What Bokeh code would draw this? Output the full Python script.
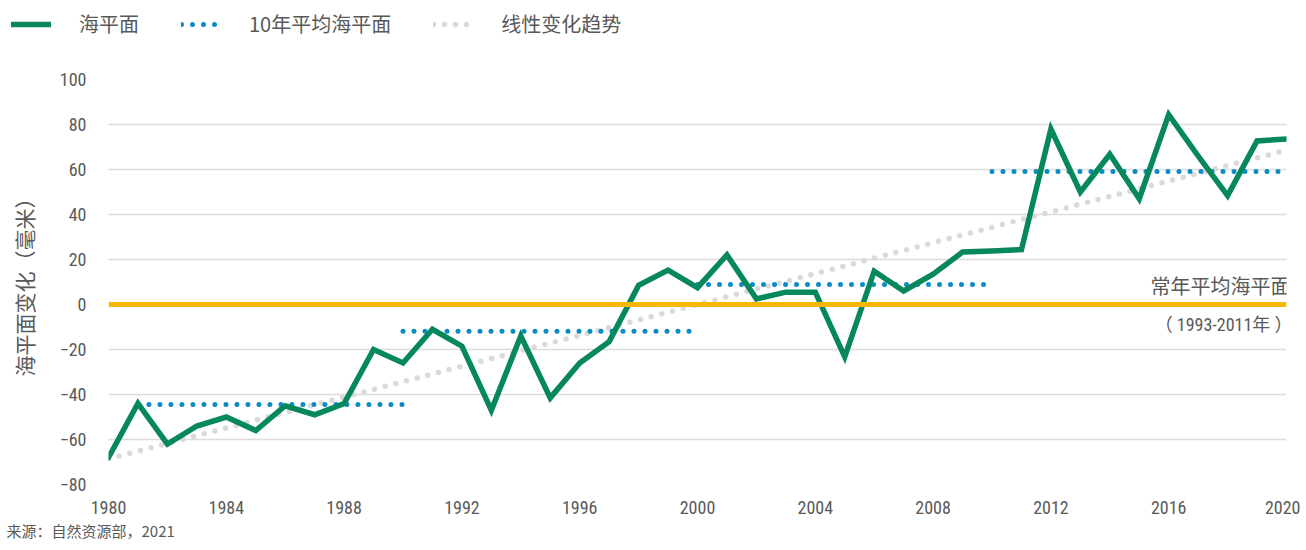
from bokeh.plotting import figure
from bokeh.layouts import column
from bokeh.models import Legend, LegendItem, Label, Span, FixedTicker, Title
from bokeh.embed import file_html
from bokeh.resources import INLINE

# ---- data ----
years = list(range(1980, 2021))
sea_level = [-68, -44, -62, -54, -50, -56, -45, -49, -44, -20,
             -26, -11, -18.5, -47, -14, -41.5, -26, -16.5, 8.5, 15.3,
             7.5, 22, 2.5, 5.5, 5.5, -23.3, 14.8, 6, 13.5, 23.3,
             23.8, 24.4, 78, 50, 66.8, 47, 84.4, 66, 48.4, 72.7, 73.6]
decade_start = [1981, 1990, 2000, 2010]
decade_end = [1990, 2000, 2010, 2020]
decade_mean = [-44.4, -11.9, 8.9, 59.1]
trend_years = [1980, 2020]
trend_values = [-68.6, 68.6]
baseline_value = 0
x_ticks = list(range(1980, 2021, 4))
y_ticks = list(range(-80, 101, 20))
legend_labels = ["海平面", "10年平均海平面", "线性变化趋势"]

GREEN = "#06875c"
BLUE = "#0b8bc6"
GREY_DOT = "#dadada"
YELLOW = "#f6b900"
TEXT = "#595959"
NUM_FONT = "Liberation Sans Narrow, Roboto Condensed, Liberation Sans"
CJK_FONT = "Noto Sans CJK SC"

sea_style = dict(line_color=GREEN, line_width=5.5, line_join="miter", line_cap="round")
dec_style = dict(line_color=BLUE, line_width=5, line_dash="0 11", line_cap="round")
trend_style = dict(line_color=GREY_DOT, line_width=5.5, line_dash="0 11", line_cap="round")

# ---- legend strip ----
lg = figure(width=1300, height=40, output_backend="svg", toolbar_location=None,
            x_axis_location=None, y_axis_location=None,
            x_range=(0, 1), y_range=(0, 1),
            min_border_left=0, min_border_right=0, min_border_top=0, min_border_bottom=0)
if "frame_align" in lg.properties():
    lg.frame_align = False
lg.outline_line_color = None
lg.grid.visible = False
# single-point placeholders: a one-point line draws nothing, only its legend swatch
l_sea = lg.line([5], [5], **sea_style)
l_dec = lg.line([5], [5], **dec_style)
l_trend = lg.line([5], [5], **trend_style)
legend = Legend(items=[LegendItem(label=legend_labels[0], renderers=[l_sea]),
                       LegendItem(label=legend_labels[1], renderers=[l_dec]),
                       LegendItem(label=legend_labels[2], renderers=[l_trend])],
                orientation="horizontal", location=(11, 2),
                label_text_font=CJK_FONT, label_text_font_size="20px",
                label_text_color=TEXT, glyph_width=40, glyph_height=26,
                label_standoff=28, spacing=42, padding=0, margin=0,
                border_line_color=None, background_fill_alpha=0)
lg.add_layout(legend, "center")

# ---- main chart ----
p = figure(width=1300, height=508, output_backend="svg", toolbar_location=None,
           x_range=(1980, 2020), y_range=(-80, 100),
           min_border_left=108, min_border_right=14, min_border_top=39,
           min_border_bottom=64)
if "frame_align" in p.properties():
    p.frame_align = False
p.outline_line_color = None
p.background_fill_color = "white"

p.xaxis.ticker = FixedTicker(ticks=x_ticks)
p.yaxis.ticker = FixedTicker(ticks=y_ticks)
for ax in (p.xaxis[0], p.yaxis[0]):
    ax.axis_line_color = None
    ax.major_tick_line_color = None
    ax.minor_tick_line_color = None
    ax.major_tick_out = 0
    ax.major_tick_in = 0
    ax.major_label_text_font = NUM_FONT
    ax.major_label_text_font_size = "18px"
    ax.major_label_text_color = TEXT
p.xaxis.major_label_standoff = 16
p.yaxis.major_label_standoff = 22
p.yaxis.axis_label = "海平面变化（毫米）"
p.yaxis.axis_label_text_font = CJK_FONT
p.yaxis.axis_label_text_font_size = "21px"
p.yaxis.axis_label_text_font_style = "normal"
p.yaxis.axis_label_text_color = TEXT
p.yaxis.axis_label_standoff = 18

p.xgrid.grid_line_color = None
p.ygrid.ticker = FixedTicker(ticks=y_ticks)
p.ygrid.grid_line_color = "#dcdcdc"
p.ygrid.grid_line_width = 1.5

p.line(trend_years, trend_values, **trend_style)
p.segment(x0=decade_start, y0=decade_mean, x1=decade_end, y1=decade_mean, **dec_style)
p.add_layout(Span(location=baseline_value, dimension="width", line_color=YELLOW,
                  line_width=5))
p.line(years, sea_level, **sea_style)

p.add_layout(Label(x=2020, y=baseline_value, text="常年平均海平面", text_align="right",
                   text_baseline="middle", y_offset=19, x_offset=4,
                   text_font=CJK_FONT, text_font_size="20px", text_color=TEXT))
p.add_layout(Label(x=2020, y=baseline_value, text="（ 1993-2011年 ）", text_align="right",
                   text_baseline="middle", y_offset=-20, x_offset=6,
                   text_font=NUM_FONT + ", " + CJK_FONT, text_font_size="18px",
                   text_color=TEXT))
p.add_layout(Title(text="来源：自然资源部，2021", align="left", offset=-102,
                   text_font=CJK_FONT, text_font_size="15px",
                   text_font_style="normal", text_color=TEXT,
                   standoff=2), "below")

layout = column(lg, p, spacing=0)
open("out.html", "w").write(file_html(layout, INLINE))
